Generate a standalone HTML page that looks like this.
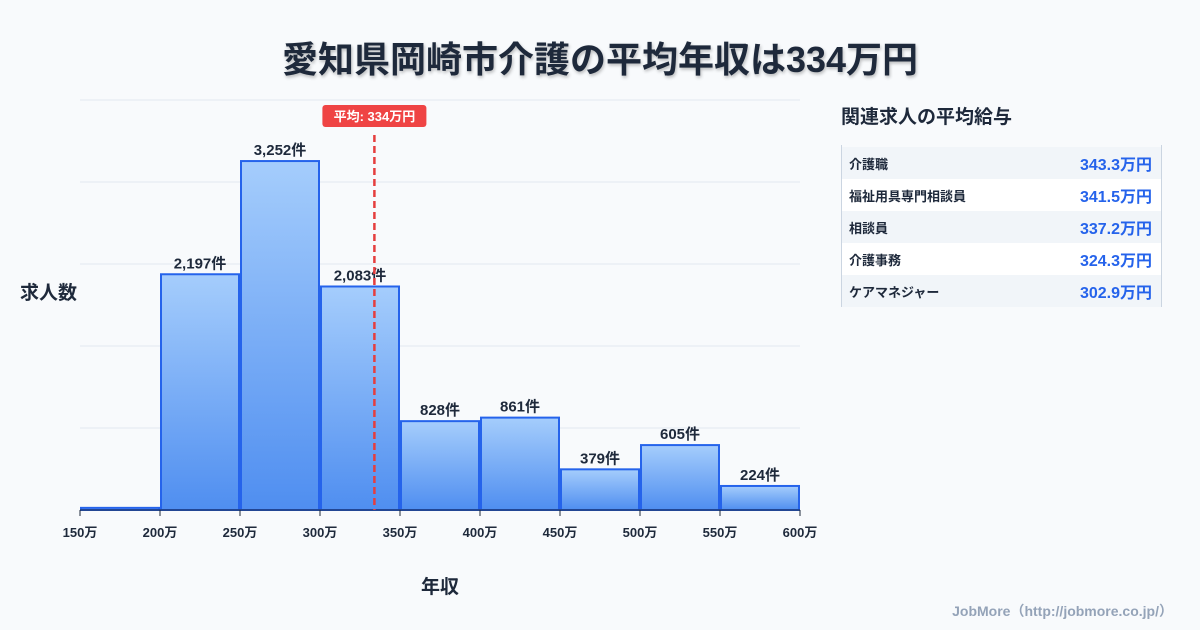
<!DOCTYPE html>
<html><head><meta charset="utf-8">
<style>
body{margin:0;width:1200px;height:630px;background:#f8fafc;font-family:"Liberation Sans","Noto Sans CJK JP",sans-serif;overflow:hidden;position:relative;color:#1e293b}
.title{position:absolute;top:31px;left:0;width:1200px;text-align:center;font-size:36px;font-weight:bold;color:#1e293b;text-shadow:1px 2px 3px rgba(0,0,0,0.25)}
.side{position:absolute;left:841px;top:102px}
.side h2{margin:0;font-size:19px;font-weight:bold;color:#1e293b}
.tbl{position:absolute;left:841px;top:145px;width:319px;border-left:1px solid #cbd5e1;border-right:1px solid #cbd5e1;padding-top:2px}
.row{height:32px;display:flex;justify-content:space-between;align-items:center;padding:0 9px 0 7px;font-size:13px;font-weight:bold}
.row:nth-child(odd){background:#f1f5f9}
.row:nth-child(even){background:#fff}
.row .v{color:#2563eb;font-size:16px}
.foot{position:absolute;right:27px;top:601px;font-size:14px;color:#94a3b8;font-weight:bold}
</style></head><body>
<div class="title">愛知県岡崎市介護の平均年収は334万円</div>
<svg id="c" width="1200" height="630" style="position:absolute;left:0;top:0"></svg>
<div class="side"><h2>関連求人の平均給与</h2></div>
<div class="tbl">
<div class="row"><span>介護職</span><span class="v">343.3万円</span></div>
<div class="row"><span>福祉用具専門相談員</span><span class="v">341.5万円</span></div>
<div class="row"><span>相談員</span><span class="v">337.2万円</span></div>
<div class="row"><span>介護事務</span><span class="v">324.3万円</span></div>
<div class="row"><span>ケアマネジャー</span><span class="v">302.9万円</span></div>
</div>
<div class="foot">JobMore（http://jobmore.co.jp/）</div>
<script>
const binStarts=[150,200,250,300,350,400,450,500,550];
const counts=[20,2197,3252,2083,828,861,379,605,224];
const labels=["","2,197件","3,252件","2,083件","828件","861件","379件","605件","224件"];
const xTicks=[150,200,250,300,350,400,450,500,550,600];
const meanVal=334;
const binW=50;
const NS="http://www.w3.org/2000/svg";
const svg=document.getElementById('c');
const X0=80,X1=800,XMIN=150,XMAX=600,Y0=510,YT=100,YMAX=3821;
const xs=v=>X0+(v-XMIN)/(XMAX-XMIN)*(X1-X0);
const ys=v=>Y0-v/YMAX*(Y0-YT);
function el(t,a,p){const e=document.createElementNS(NS,t);for(const k in a)e.setAttribute(k,a[k]);(p||svg).appendChild(e);return e;}
const defs=el('defs',{});
const g=el('linearGradient',{id:'bg',x1:0,y1:0,x2:0,y2:1},defs);
el('stop',{offset:'0','stop-color':'#a5cdfc'},g);
el('stop',{offset:'1','stop-color':'#4f8ef0'},g);
for(let i=0;i<=5;i++){const y=Y0-i*(Y0-YT)/5;
const l=el('line',{x1:X0,x2:X1,y1:y,y2:y,stroke:'#e2e8f0','stroke-width':1});
}
binStarts.forEach((b,i)=>{
const x=xs(b)+1,w=xs(b+binW)-xs(b)-2,y=ys(counts[i]);
const r=el('rect',{x:x,y:y,width:w,height:Y0-y,fill:'url(#bg)',stroke:'#2563eb','stroke-width':2});

if(labels[i]){const t=el('text',{x:x+w/2,y:y-6,'text-anchor':'middle','font-size':15,'font-weight':'bold',fill:'#1e293b'});t.textContent=labels[i];
}
});
const ax=el('line',{x1:X0,x2:X1,y1:Y0,y2:Y0,stroke:'#1e293b','stroke-width':1});

xTicks.forEach(v=>{const x=xs(v);
el('line',{x1:x,x2:x,y1:Y0,y2:Y0+6,stroke:'#1e293b'});
const t=el('text',{x:x,y:Y0+27,'text-anchor':'middle','font-size':13,'font-weight':'bold',fill:'#1e293b'});t.textContent=v+'万';
});
const mx=xs(meanVal);
const ml=el('line',{x1:mx,x2:mx,y1:135,y2:Y0,stroke:'#e53e3e','stroke-width':2.5,'stroke-dasharray':'7,4'});

const mr=el('rect',{x:mx-52,y:105,width:104,height:22,rx:3,fill:'#ef4444'});

const mt=el('text',{x:mx,y:121,'text-anchor':'middle','font-size':13,'font-weight':'bold',fill:'#fff'});mt.textContent='平均: '+meanVal+'万円';

const yt=el('text',{x:20,y:299,'font-size':19,'font-weight':'bold',fill:'#1e293b'});yt.textContent='求人数';

const xt=el('text',{x:440,y:593,'text-anchor':'middle','font-size':19,'font-weight':'bold',fill:'#1e293b'});xt.textContent='年収';

</script>
</body></html>
